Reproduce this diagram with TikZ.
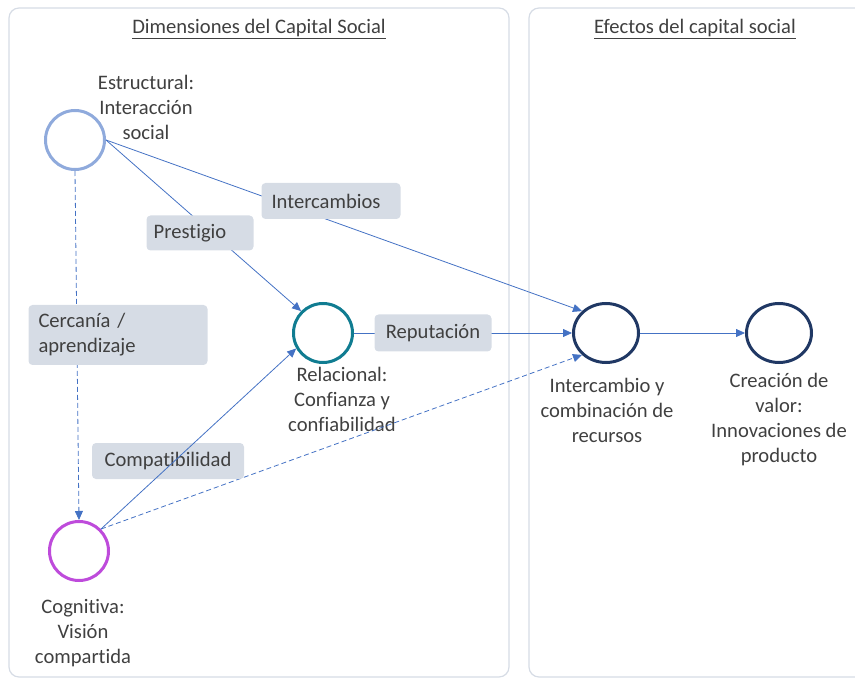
\documentclass[tikz,border=0pt]{standalone}
\usepackage{fontspec}
\setmainfont{Carlito}[Ligatures={NoCommon}]
\usetikzlibrary{shapes.geometric,arrows.meta}

\definecolor{linkblue}{RGB}{68,114,196}
\definecolor{panelgray}{RGB}{214,220,229}
\definecolor{tagfill}{RGB}{214,220,229}
\definecolor{textgray}{RGB}{64,64,64}
\definecolor{estrcol}{RGB}{143,170,220}
\definecolor{relcol}{RGB}{16,124,145}
\definecolor{cogcol}{RGB}{190,75,219}
\definecolor{navy}{RGB}{32,56,100}

\begin{document}
\begin{tikzpicture}[x=1pt, y=-1pt,
    panel/.style={draw=panelgray, line width=1.2pt, rounded corners=10pt},
    dim/.style={circle, draw, line width=3pt, minimum size=59pt, inner sep=0pt},
    effect/.style={ellipse, draw=navy, line width=3pt, minimum width=65pt, minimum height=59pt, inner sep=0pt},
    lbl/.style={align=center, text=textgray, font=\fontsize{20.6}{25}\selectfont},
    tag/.style={fill=tagfill, rounded corners=4pt, text=textgray, font=\fontsize{20.6}{25}\selectfont, inner sep=0pt},
    link/.style={draw=linkblue, line width=0.8pt, -{Triangle[length=9pt,width=8pt]}},
    weak/.style={link, dash pattern=on 5pt off 3pt}
]
\useasboundingbox (0,0) rectangle (855,679);

% panels
\draw[panel] (9,8) rectangle (509,677);
\draw[panel] (529,8) rectangle (880,677);
\node[lbl] (dimtitle) at (259,29) {\underline{Dimensiones del Capital Social}};
\node[lbl] (efftitle) at (695,29) {\underline{Efectos del capital social}};

% dimensions
\node[dim, draw=estrcol] (estr) at (75,140) {};
\node[dim, draw=relcol] (rel) at (323,333) {};
\node[dim, draw=cogcol] (cog) at (79,551) {};
\node[lbl] (estrtxt) at (146,107) {Estructural:\\Interacción\\social};
\node[lbl] (reltxt) at (342,399) {Relacional:\\Confianza y\\confiabilidad};
\node[lbl] (cogtxt) at (83,633) {Cognitiva:\\Visión\\compartida};

% effects
\node[effect] (inter) at (606,333) {};
\node[effect] (crea) at (779,333) {};
\node[lbl] (intertxt) at (607,410) {Intercambio y\\combinación de\\recursos};
\node[lbl] (creatxt) at (779,420) {Creación de\\valor:\\Innovaciones de\\producto};

% connectors
\draw[link] (estr.east) -- (inter.north west);
\draw[link] (estr.east) -- (rel.north west);
\draw[weak] (estr.south) -- (cog.north);
\draw[link] (rel.east) -- (inter.west);
\draw[link] (inter.east) -- (crea.west);
\draw[weak] (cog.north east) -- (inter.south west);

\node[tag, minimum width=139pt, minimum height=36pt] (intercambios) at (331,201) {\hspace*{-10pt}Intercambios};
\node[tag, minimum width=107pt, minimum height=35pt] (prestigio) at (200,233) {\hspace*{-20pt}Prestigio};
\node[tag, minimum width=179pt, minimum height=60pt, text width=159pt, align=left] (cercania) at (118,335) {Cercanía /\\aprendizaje};
\node[tag, minimum width=117pt, minimum height=37pt] (reputacion) at (433,333) {Reputación};
\node[tag, minimum width=152pt, minimum height=36pt] (compat) at (168,461) {Compatibilidad};

\draw[link] (cog.north east) -- (rel.210);

\end{tikzpicture}
\end{document}
